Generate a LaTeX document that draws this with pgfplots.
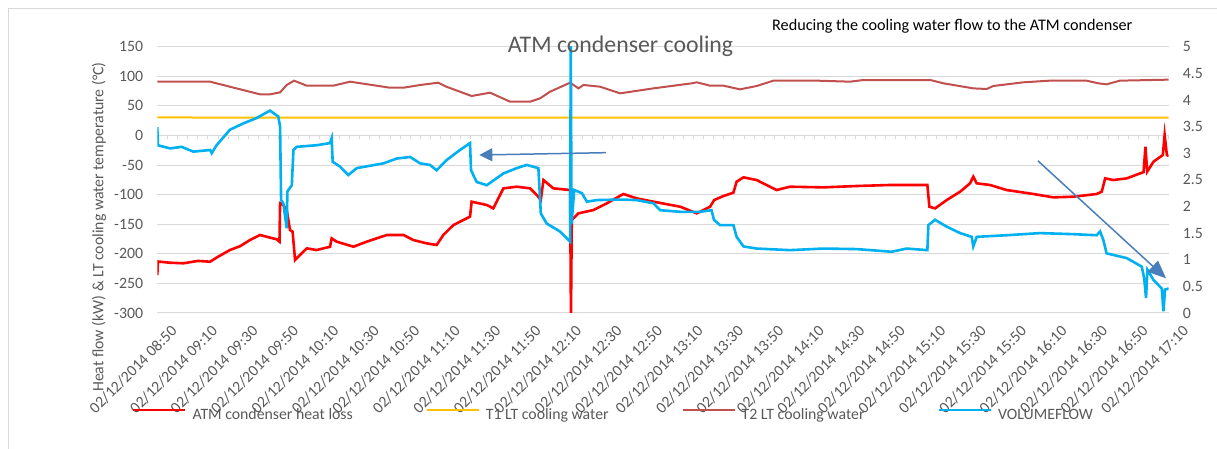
\documentclass[border=0pt]{standalone}
\usepackage{fontspec}
\setmainfont{Carlito}
\usepackage{pgfplots}
\pgfplotsset{compat=1.18}
\usetikzlibrary{arrows.meta}
\definecolor{cred}{HTML}{FF0000}
\definecolor{corange}{HTML}{FFC000}
\definecolor{ctwo}{HTML}{C0504D}
\definecolor{cblue}{HTML}{00B0F0}
\definecolor{carrow}{HTML}{4A7EBB}
\definecolor{cgrid}{HTML}{D9D9D9}
\definecolor{ctext}{HTML}{595959}
\newcommand{\tickfont}{\fontsize{15.8bp}{18bp}\selectfont}
\begin{document}
\begin{tikzpicture}
\path[use as bounding box] (0bp,0bp) rectangle (1217bp,449bp);
\draw[cgrid, line width=1bp] (8bp,0bp) -- (8bp,440bp) -- (1217bp,440bp);
% minor ticks on the zero line
\begin{axis}[at={(157.3bp,136bp)}, anchor=south west, width=1011.4bp, height=266.3bp, scale only axis,
  xmin=0, xmax=500, ymin=-300, ymax=150,
  axis x line=middle, axis y line=none,
  axis line style={-, draw=cgrid, line width=1bp},
  xtick={0,5,...,500}, xticklabels={}, ytick=\empty,
  xtick align=outside, major tick length=4bp,
  tick style={cgrid, line width=0.8bp}]
\end{axis}
\begin{axis}[at={(157.3bp,136bp)}, anchor=south west, width=1011.4bp, height=266.3bp, scale only axis,
  xmin=0, xmax=500, ymin=-300, ymax=150,
  axis line style={draw=none}, major tick length=0pt,
  ytick={-300,-250,-200,-150,-100,-50,0,50,100,150},
  yticklabels={-300,-250,-200,-150,-100,-50,0,50,100,150},
  ymajorgrids, grid style={cgrid, line width=1bp},
  xtick={0,20,...,500},
  xticklabels={02/12/2014 08:50,02/12/2014 09:10,02/12/2014 09:30,02/12/2014 09:50,02/12/2014 10:10,02/12/2014 10:30,02/12/2014 10:50,02/12/2014 11:10,02/12/2014 11:30,02/12/2014 11:50,02/12/2014 12:10,02/12/2014 12:30,02/12/2014 12:50,02/12/2014 13:10,02/12/2014 13:30,02/12/2014 13:50,02/12/2014 14:10,02/12/2014 14:30,02/12/2014 14:50,02/12/2014 15:10,02/12/2014 15:30,02/12/2014 15:50,02/12/2014 16:10,02/12/2014 16:30,02/12/2014 16:50,02/12/2014 17:10},
  ticklabel style={font=\tickfont, text=ctext},
  yticklabel style={anchor=east, inner sep=0pt, xshift=-14bp},
  xticklabel style={rotate=45, anchor=north east, inner sep=0pt, xshift=1bp, yshift=-17bp},
  legend columns=4,
  legend style={at={(-0.025,-0.383)}, anchor=west, draw=none, fill=none, inner sep=0pt, outer sep=0pt,
    font=\tickfont, text=ctext, nodes={inner sep=0pt},
    /tikz/every even column/.append style={column sep=73bp}},
  legend image code/.code={\draw[#1] (0bp,5bp) -- (52bp,5bp); \path (58bp,0bp);}]
\addplot[cred, line width=2.6bp] coordinates {
(0,-236) (0.3,-213) (6,-215) (12.9,-216) (20,-212) (26.1,-213.3) (30,-205) (35.9,-193.6) (41,-187)
(45.8,-176.7) (50.8,-168.2) (55,-172) (59.1,-175.5) (60.4,-179.5) (60.7,-114.7) (62.3,-117.5) (64,-126)
(65.6,-159.8) (66.9,-162.6) (68.1,-210.5) (69.7,-204.8) (73.9,-190.8) (78.8,-193.6) (85.4,-188)
(86.2,-173.9) (88.7,-179.5) (97,-188) (103.5,-179.5) (113.5,-168.2) (121.7,-168.2) (126.6,-176.7)
(133.2,-182.3) (138.1,-185.1) (141.4,-168.2) (146.4,-151.3) (154.6,-137.2) (155.4,-111.9) (162.9,-117.5)
(166.1,-123.2) (171.1,-89.4) (177.7,-86.6) (184.3,-89.4) (187.6,-100.6) (189.6,-109.1) (190.9,-75.3)
(195.8,-89.4) (204.1,-92.2) (204.5,-310) (204.9,-142.9) (208.2,-131.6) (215.6,-126) (222.2,-114.7)
(230.4,-98.9) (237,-106.3) (245.3,-111.9) (258.5,-120.4) (266.7,-131.6) (273.3,-120.4) (275.3,-109.1)
(279.9,-102.3) (284.8,-96.7) (286.4,-78.1) (289.8,-70.8) (296.3,-75.3) (302.9,-86.6) (306.2,-92.2)
(312.8,-86.6) (329.3,-87.7) (345.8,-85.4) (362.2,-83.7) (380.7,-83.7) (381.7,-120.4) (384.5,-123.2)
(390.3,-109.1) (396.9,-95) (401.8,-80.9) (403.4,-69.7) (405.1,-80.9) (411.7,-83.7) (419.9,-92.2)
(433.1,-98.9) (443,-104.6) (452.9,-103.5) (464.4,-98.9) (466.9,-95) (468.6,-72.5) (472.7,-75.3)
(479.3,-72.5) (485.9,-64) (487.6,-62) (488.5,-19) (489.4,-61) (492.5,-44.3) (497.1,-33) (498,0.8)
(499.1,-33) (500,-34.7)};
\addlegendentry{ATM condenser heat loss}
\addplot[corange, line width=2bp] coordinates {(0,30.5) (60,30) (500,30)};
\addlegendentry{T1 LT cooling water}
\addplot[ctwo, line width=2bp] coordinates {
(0,90.9) (26.1,90.9) (35.9,82.4) (50.8,69.5) (55.7,69.5) (60.7,72.9) (64,85.3) (67.6,92.6) (73.9,84.1)
(87,84.1) (95.3,90.9) (115,80.7) (121.7,80.7) (130,85.3) (138.9,89.2) (142.9,82.4) (155.4,66.7)
(164.5,72.3) (174.4,57.1) (184.3,57.1) (189.2,62.7) (194.2,74.0) (204.1,89.2) (208.2,79.6) (210.7,85.3)
(218.9,82.4) (228.8,71.2) (245.3,79.6) (264.2,88.1) (266.7,89.8) (273.3,84.1) (279.9,84.1) (288.1,77.9)
(296.3,83.6) (304.6,92.6) (326,92.6) (342.5,90.9) (349.1,93.7) (382.1,93.7) (388.7,88.1) (403.4,79.6)
(410,78.5) (413.3,83.6) (428.1,89.8) (441.3,92.6) (459.4,92.6) (465.2,88.1) (469.3,86.4) (475.9,92.6)
(500,94.3)};
\addlegendentry{T2 LT cooling water}
\addlegendimage{cblue, line width=2.6bp}
\addlegendentry{VOLUMEFLOW}
\coordinate (a1s) at (axis cs:221.8,-29.1);
\coordinate (a1e) at (axis cs:159.2,-33.0);
\coordinate (a2s) at (axis cs:435.3,-42.7);
\coordinate (a2e) at (axis cs:498.7,-241.4);
\end{axis}
\begin{axis}[at={(157.3bp,136bp)}, anchor=south west, width=1011.4bp, height=266.3bp, scale only axis,
  xmin=0, xmax=500, ymin=0, ymax=5,
  axis y line*=right, axis x line=none, axis line style={draw=none}, major tick length=0pt,
  ytick={0,0.5,1,1.5,2,2.5,3,3.5,4,4.5,5},
  yticklabels={0,0.5,1,1.5,2,2.5,3,3.5,4,4.5,5},
  ticklabel style={font=\tickfont, text=ctext},
  yticklabel style={anchor=west, inner sep=0pt, xshift=14bp}]
\addplot[cblue, line width=2.6bp] coordinates {
(0,3.49) (0.3,3.15) (6.3,3.09) (12,3.12) (17.8,3.03) (26.1,3.06) (26.9,3.0) (29.3,3.15) (35.9,3.44)
(42.5,3.56) (49.1,3.66) (55.7,3.80) (59.8,3.69) (60.7,3.50) (61.2,2.12) (62.3,2.06) (64,1.59) (64.3,2.28)
(66.5,2.40) (67.3,3.06) (68.9,3.12) (78.8,3.15) (85.4,3.19) (86.2,3.28) (86.7,2.84) (90.3,2.75) (94.4,2.59)
(98.6,2.72) (111.8,2.81) (118.4,2.90) (125,2.93) (129.9,2.81) (134.8,2.78) (138.1,2.68) (143,2.87)
(149.6,3.06) (154.6,3.19) (155.1,2.68) (157.9,2.46) (162.9,2.40) (171.1,2.62) (177.7,2.72) (182.6,2.78)
(188.4,2.72) (189.6,1.87) (192.5,1.68) (199.1,1.53) (204.1,1.34) (204.4,5.1) (204.8,1.68) (206.1,2.31)
(209.9,2.25) (212.4,2.09) (217.3,2.12) (228.8,2.13) (237,2.12) (245.3,2.06) (248.6,1.93) (258.5,1.90)
(268.3,1.90) (274,1.93) (275.2,1.75) (278.2,1.65) (284.8,1.65) (286.4,1.43) (289.8,1.25) (296.3,1.21)
(312.8,1.18) (329.3,1.21) (345.8,1.20) (363,1.15) (370.5,1.21) (380.7,1.18) (381.2,1.65) (384.5,1.75)
(390.3,1.62) (396.9,1.50) (402.6,1.43) (403.4,1.25) (405.1,1.43) (419.9,1.46) (436.4,1.50) (452.9,1.48)
(464.4,1.46) (466.1,1.53) (467.7,1.37) (469.3,1.12) (479.3,1.03) (486.7,0.87) (487.9,0.65) (488.8,0.28)
(489.5,0.81) (492.5,0.62) (496.6,0.46) (497.4,0.03) (498.2,0.44) (500,0.46)};
\end{axis}
\draw[carrow, line width=1.5bp, -{Triangle[length=13bp,width=13bp]}] (a1s) -- (a1e);
\draw[carrow, line width=1.5bp, -{Triangle[length=18bp,width=15bp]}] (a2s) -- (a2e);
\node[rotate=90, font=\tickfont, text=ctext] at (99bp,222bp) {Heat flow (kW) \& LT cooling water temperature (°C)};
\node[anchor=base, inner sep=0pt, font=\fontsize{23.8bp}{28bp}\selectfont, text=ctext] at (620.5bp,396bp) {ATM condenser cooling};
\node[anchor=base west, inner sep=0pt, font=\fontsize{16.2bp}{19bp}\selectfont] at (772bp,418bp) {Reducing the cooling water flow to the ATM condenser};
\end{tikzpicture}
\end{document}
